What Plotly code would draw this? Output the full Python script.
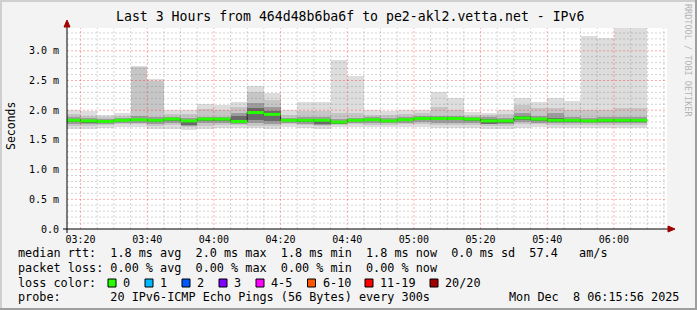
import pandas as pd
import plotly.graph_objects as go

# ---------------- data (values in milliseconds) ----------------
interval_starts = pd.date_range("2025-12-08 03:15:00", periods=35, freq="5min")

rtt_max = [2.01, 1.98, 1.92, 1.96, 2.75, 2.53, 2.00, 2.00, 2.10, 2.08, 2.13, 2.40, 2.29, 2.01, 2.13, 2.13, 2.85, 2.57,
           2.00, 1.98, 2.00, 2.00, 2.30, 2.20, 1.97, 1.96, 2.00, 2.21, 2.13, 2.21, 2.15, 3.25, 3.21, 3.40, 3.40]
rtt_hi2 = [1.93, 1.91, 1.88, 1.90, 2.72, 2.50, 1.93, 1.93, 2.02, 2.00, 2.05, 2.30, 2.18, 1.92, 1.98, 1.98, 1.95, 1.95,
           1.92, 1.92, 1.93, 1.95, 2.05, 2.00, 1.92, 1.92, 1.93, 2.08, 2.03, 2.03, 2.00, 2.00, 2.00, 2.03, 2.03]
rtt_hi3 = [1.88, 1.87, 1.85, 1.87, 1.90, 1.88, 1.89, 1.87, 1.89, 1.89, 1.96, 2.12, 2.05, 1.87, 1.88, 1.88, 1.85, 1.87,
           1.88, 1.87, 1.88, 1.90, 1.91, 1.91, 1.89, 1.88, 1.87, 1.95, 1.90, 1.95, 1.88, 1.87, 1.88, 1.88, 1.88]
rtt_hi4 = [1.85, 1.84, 1.83, 1.85, 1.86, 1.85, 1.87, 1.84, 1.87, 1.87, 1.90, 2.04, 1.98, 1.85, 1.85, 1.85, 1.82, 1.85,
           1.86, 1.84, 1.86, 1.88, 1.88, 1.88, 1.87, 1.85, 1.84, 1.90, 1.87, 1.87, 1.85, 1.84, 1.85, 1.85, 1.85]
rtt_median = [1.83, 1.82, 1.81, 1.83, 1.84, 1.83, 1.85, 1.82, 1.85, 1.85, 1.81, 1.96, 1.93, 1.83, 1.83, 1.83, 1.80, 1.83,
              1.84, 1.82, 1.84, 1.86, 1.86, 1.86, 1.85, 1.82, 1.82, 1.87, 1.85, 1.83, 1.83, 1.82, 1.83, 1.83, 1.83]
rtt_lo4 = [1.80, 1.79, 1.79, 1.81, 1.82, 1.80, 1.82, 1.75, 1.82, 1.82, 1.79, 1.84, 1.81, 1.81, 1.80, 1.77, 1.77, 1.81,
           1.82, 1.80, 1.82, 1.83, 1.83, 1.83, 1.82, 1.77, 1.79, 1.84, 1.82, 1.80, 1.80, 1.80, 1.80, 1.80, 1.80]
rtt_lo3 = [1.77, 1.76, 1.77, 1.79, 1.79, 1.77, 1.78, 1.73, 1.78, 1.78, 1.77, 1.78, 1.76, 1.79, 1.77, 1.75, 1.76, 1.79,
           1.79, 1.78, 1.79, 1.80, 1.79, 1.79, 1.79, 1.76, 1.77, 1.80, 1.79, 1.78, 1.78, 1.78, 1.78, 1.78, 1.78]
rtt_lo2 = [1.74, 1.73, 1.75, 1.76, 1.76, 1.74, 1.75, 1.71, 1.74, 1.75, 1.75, 1.74, 1.73, 1.76, 1.75, 1.73, 1.75, 1.76,
           1.75, 1.75, 1.76, 1.76, 1.75, 1.75, 1.75, 1.74, 1.74, 1.76, 1.76, 1.75, 1.75, 1.75, 1.75, 1.75, 1.75]
rtt_min = [1.69, 1.68, 1.70, 1.72, 1.71, 1.69, 1.69, 1.66, 1.69, 1.70, 1.70, 1.70, 1.69, 1.72, 1.70, 1.69, 1.71, 1.72,
           1.71, 1.71, 1.71, 1.71, 1.70, 1.70, 1.70, 1.69, 1.69, 1.70, 1.71, 1.70, 1.70, 1.70, 1.70, 1.70, 1.70]

y_tick_vals = [0.0, 0.5, 1.0, 1.5, 2.0, 2.5, 3.0]
y_tick_text = ["0.0", "0.5 m", "1.0 m", "1.5 m", "2.0 m", "2.5 m", "3.0 m"]

title_text = "Last 3 Hours from 464d48b6ba6f to pe2-akl2.vetta.net - IPv6"
legend_rtt = "median rtt:  1.8 ms avg  2.0 ms max  1.8 ms min  1.8 ms now  0.0 ms sd  57.4   am/s"
legend_loss = "packet loss: 0.00 % avg  0.00 % max  0.00 % min  0.00 % now"
legend_probe = "probe:       20 IPv6-ICMP Echo Pings (56 Bytes) every 300s"
stamp_text = "Mon Dec  8 06:15:56 2025"
loss_labels = ["0", "1", "2", "3", "4-5", "6-10", "11-19", "20/20"]
loss_colors = ["#26ff00", "#00b8ff", "#0059ff", "#7e00ff", "#ff00ff", "#ff5500", "#ff0000", "#a10000"]

# ---------------- geometry / style ----------------
W, H = 697, 310
L, R, T, B = 67, 667, 28, 229
MONO = "DejaVu Sans Mono"
BG = "#f3f3f3"
step = pd.Timedelta(minutes=5)
centers = interval_starts + step / 2
bar_w = step.total_seconds() * 1000


def px(x):
    return (x - L) / (R - L)


def py(y):
    return (B - y) / (B - T)


fig = go.Figure()

bands = [
    (rtt_min, rtt_max, "#dddddd"),
    (rtt_lo2, rtt_hi2, "#c6c6c6"),
    (rtt_lo3, rtt_hi3, "#9c9c9c"),
    (rtt_lo4, rtt_hi4, "#6a6a6a"),
]
for lo, hi, col in bands:
    fig.add_trace(go.Bar(
        x=centers, base=lo, y=[h - l for l, h in zip(lo, hi)], width=bar_w,
        marker=dict(color=col, line=dict(width=0)), hoverinfo="skip", showlegend=False))

# dark median step line
fig.add_trace(go.Scatter(
    x=list(interval_starts) + [interval_starts[-1] + step],
    y=rtt_median + [rtt_median[-1]],
    mode="lines", line=dict(color="#202020", width=1, shape="hv"),
    hoverinfo="skip", showlegend=False))

# green (loss 0) median segments, horizontal only
gx, gy = [], []
for s, m in zip(interval_starts, rtt_median):
    gx += [s, s + step, None]
    gy += [m, m, None]
fig.add_trace(go.Scatter(
    x=gx, y=gy, mode="lines", line=dict(color=loss_colors[0], width=3),
    connectgaps=False, hoverinfo="skip", showlegend=False))

shapes = []
# grid on top of data
t = pd.Timestamp("2025-12-08 03:20:00")
while t <= pd.Timestamp("2025-12-08 06:15:00"):
    major = (t.minute % 20 == 0)
    shapes.append(dict(type="line", xref="x", yref="paper", x0=t, x1=t, y0=0, y1=1, layer="above",
                       line=dict(color="rgba(255,0,0,0.33)" if major else "rgba(110,110,110,0.30)",
                                 width=1, dash="2px,2px")))
    t += step
for k in range(1, 34):
    v = k / 10
    major = (k % 5 == 0)
    shapes.append(dict(type="line", xref="paper", yref="y", x0=0, x1=1, y0=v, y1=v, layer="above",
                       line=dict(color="rgba(255,0,0,0.33)" if major else "rgba(110,110,110,0.30)",
                                 width=1, dash="2px,2px")))

# axes with arrows
shapes.append(dict(type="line", xref="paper", yref="paper", x0=px(63), x1=px(669), y0=py(229), y1=py(229),
                   layer="above", line=dict(color="#000000", width=1)))
shapes.append(dict(type="line", xref="paper", yref="paper", x0=px(67), x1=px(67), y0=py(233), y1=py(25),
                   layer="above", line=dict(color="#000000", width=1)))
shapes.append(dict(type="path", xref="paper", yref="paper", layer="above",
                   path=f"M {px(668)} {py(226)} L {px(675)} {py(229)} L {px(668)} {py(232)} Z",
                   fillcolor="#a00000", line=dict(color="#a00000", width=1)))
shapes.append(dict(type="path", xref="paper", yref="paper", layer="above",
                   path=f"M {px(64)} {py(27)} L {px(67)} {py(20)} L {px(70)} {py(27)} Z",
                   fillcolor="#a00000", line=dict(color="#a00000", width=1)))

# frame shading
shapes.append(dict(type="rect", xref="paper", yref="paper", x0=px(0), x1=px(W), y0=py(0), y1=py(2),
                   fillcolor="#cfcfcf", line=dict(width=0), layer="above"))
shapes.append(dict(type="rect", xref="paper", yref="paper", x0=px(0), x1=px(2), y0=py(0), y1=py(H),
                   fillcolor="#cfcfcf", line=dict(width=0), layer="above"))
shapes.append(dict(type="rect", xref="paper", yref="paper", x0=px(0), x1=px(W), y0=py(H - 2), y1=py(H),
                   fillcolor="#9e9e9e", line=dict(width=0), layer="above"))
shapes.append(dict(type="rect", xref="paper", yref="paper", x0=px(W - 2), x1=px(W), y0=py(0), y1=py(H),
                   fillcolor="#9e9e9e", line=dict(width=0), layer="above"))

# loss color boxes
box_left = [108, 145, 182, 219, 256, 307.5, 365, 430]
for bx, col in zip(box_left, loss_colors):
    shapes.append(dict(type="rect", xref="paper", yref="paper", x0=px(bx), x1=px(bx + 8),
                       y0=py(287), y1=py(279), fillcolor=col, line=dict(color="#000000", width=1),
                       layer="above"))


def nb(s):
    return s.replace(" ", "\u00a0")


LEG = 11.8
ann = [
    dict(text=nb(title_text), x=px(350), y=py(17), font=dict(size=13.2)),
    dict(text="Seconds", x=px(11), y=py(126), textangle=-90, font=dict(size=11.5)),
    dict(text=nb("RRDTOOL / TOBI OETIKER"), x=px(688), y=py(60), textangle=90,
         font=dict(size=8.5, color="#b4b4b4")),
    dict(text=nb(legend_rtt), x=px(16), y=py(253), xanchor="left", font=dict(size=LEG)),
    dict(text=nb(legend_loss), x=px(16), y=py(268), xanchor="left", font=dict(size=LEG)),
    dict(text=nb("loss color:"), x=px(16), y=py(283), xanchor="left", font=dict(size=LEG)),
    dict(text=nb(legend_probe), x=px(16), y=py(297), xanchor="left", font=dict(size=LEG)),
    dict(text=nb(stamp_text), x=px(681), y=py(297), xanchor="right", font=dict(size=LEG)),
]
for bx, lab in zip(box_left, loss_labels):
    ann.append(dict(text=nb(lab), x=px(bx + 13), y=py(283), xanchor="left", font=dict(size=LEG)))

annotations = []
for a in ann:
    base = dict(xref="paper", yref="paper", showarrow=False, xanchor="center", yanchor="middle")
    f = dict(family=MONO, color="#000000")
    f.update(a.get("font", {}))
    base.update(a)
    base["font"] = f
    annotations.append(base)

fig.update_layout(
    width=W, height=H,
    margin=dict(l=L, r=W - R, t=T, b=H - B, pad=0),
    paper_bgcolor=BG, plot_bgcolor="#ffffff",
    barmode="overlay", bargap=0,
    showlegend=False,
    shapes=shapes,
    annotations=annotations,
    xaxis=dict(
        type="date",
        range=["2025-12-08 03:15:56", "2025-12-08 06:15:56"],
        tick0="2025-12-08 03:20:00", dtick=20 * 60 * 1000, tickformat="%H:%M",
        showgrid=False, zeroline=False, showline=False, ticks="",
        ticklabelstandoff=3,
        tickfont=dict(family=MONO, size=10, color="#000000"),
        fixedrange=True,
    ),
    yaxis=dict(
        range=[0, (B - T) / 59.4],
        tickvals=y_tick_vals, ticktext=y_tick_text,
        showgrid=False, zeroline=False, showline=False, ticks="",
        ticklabelstandoff=7,
        tickfont=dict(family=MONO, size=10, color="#000000"),
        fixedrange=True,
    ),
)

fig.write_html("out.html", config={"displayModeBar": False})
